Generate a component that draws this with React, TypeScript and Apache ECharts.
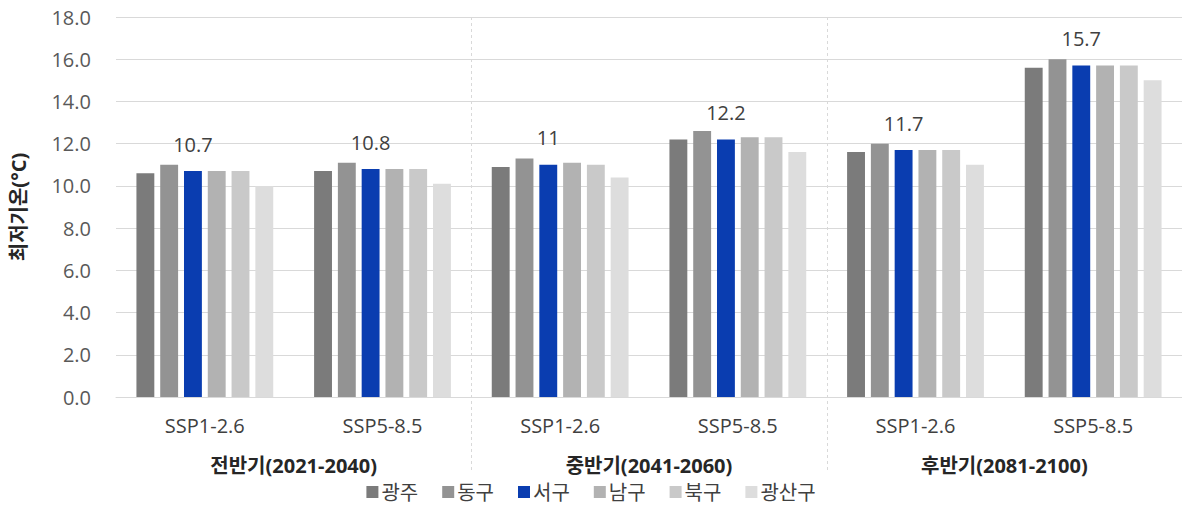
import React, { useEffect, useRef } from "react";
import * as echarts from "echarts";

const scenarios = ["SSP1-2.6", "SSP5-8.5", "SSP1-2.6", "SSP5-8.5", "SSP1-2.6", "SSP5-8.5"];
const periods = ["전반기(2021-2040)", "중반기(2041-2060)", "후반기(2081-2100)"];
const seriesNames = ["광주", "동구", "서구", "남구", "북구", "광산구"];
const gwangju = [10.6, 10.7, 10.9, 12.2, 11.6, 15.6];
const donggu = [11.0, 11.1, 11.3, 12.6, 12.0, 16.0];
const seogu = [10.7, 10.8, 11.0, 12.2, 11.7, 15.7];
const namgu = [10.7, 10.8, 11.1, 12.3, 11.7, 15.7];
const bukgu = [10.7, 10.8, 11.0, 12.3, 11.7, 15.7];
const gwangsangu = [10.0, 10.1, 10.4, 11.6, 11.0, 15.0];
const yTicks = [0, 2, 4, 6, 8, 10, 12, 14, 16, 18];

const colors = ["#7b7b7b", "#939393", "#0a3db0", "#b2b2b2", "#c9c9c9", "#dddddd"];
const FONT = "'Open Sans', 'Noto Sans CJK KR', sans-serif";

export default function App() {
  const ref = useRef<HTMLDivElement>(null);
  useEffect(() => {
    document.body.style.margin = "0";
    if (!ref.current) return;
    const chart = echarts.init(ref.current, null, { renderer: "svg" });
    const data = [gwangju, donggu, seogu, namgu, bukgu, gwangsangu];
    const option: any = {
      animation: false,
      textStyle: { fontFamily: FONT },
      color: colors,
      grid: { left: 110, right: 0, top: 17, bottom: 114 },
      legend: {
        data: seriesNames,
        bottom: 4,
        left: "center",
        itemWidth: 12,
        itemHeight: 12,
        itemGap: 24,
        icon: "rect",
        textStyle: { fontSize: 20, color: "#404040", fontFamily: FONT, padding: [0, 0, 0, -2] },
      },
      xAxis: [
        {
          type: "category",
          data: scenarios,
          axisTick: { show: false },
          axisLine: { lineStyle: { color: "#d9d9d9", width: 1 } },
          axisLabel: { margin: 18, fontSize: 20, color: "#404040", fontFamily: FONT },
        },
        {
          type: "category",
          data: periods,
          position: "bottom",
          offset: 40,
          axisTick: { show: false },
          axisLine: { show: false },
          axisLabel: { margin: 18, fontSize: 20, fontWeight: "bold", color: "#262626", fontFamily: FONT },
        },
      ],
      yAxis: {
        type: "value",
        min: yTicks[0],
        max: yTicks[yTicks.length - 1],
        interval: 2,
        name: "최저기온(°C)",
        nameLocation: "middle",
        nameGap: 88,
        nameTextStyle: { fontSize: 20, fontWeight: "bold", color: "#262626", fontFamily: FONT },
        axisLine: { show: false },
        axisTick: { show: false },
        splitLine: { lineStyle: { color: "#d9d9d9", width: 1 } },
        axisLabel: {
          margin: 25,
          fontSize: 20,
          color: "#595959",
          fontFamily: FONT,
          formatter: (v: number) => v.toFixed(1),
        },
      },
      series: seriesNames.map((name, i) => ({
        name,
        type: "bar",
        xAxisIndex: 0,
        data: data[i],
        barGap: "33%",
        barCategoryGap: "23%",
        itemStyle: { color: colors[i] },
        label:
          i === 2
            ? {
                show: true,
                position: "top",
                distance: 17,
                fontSize: 20,
                color: "#404040",
                fontFamily: FONT,
              }
            : { show: false },
      })),
    };
    chart.setOption(option);

    const x1 = chart.convertToPixel({ xAxisIndex: 0 }, 1) as number;
    const x2 = chart.convertToPixel({ xAxisIndex: 0 }, 2) as number;
    const x3 = chart.convertToPixel({ xAxisIndex: 0 }, 3) as number;
    const x4 = chart.convertToPixel({ xAxisIndex: 0 }, 4) as number;
    const yTop = chart.convertToPixel({ yAxisIndex: 0 }, yTicks[yTicks.length - 1]) as number;
    const yBottom = 470;
    const seps = [(x1 + x2) / 2, (x3 + x4) / 2];
    chart.setOption({
      graphic: seps.map((x) => ({
        type: "line",
        shape: { x1: Math.round(x) + 0.5, y1: yTop, x2: Math.round(x) + 0.5, y2: yBottom },
        style: { stroke: "#d9d9d9", lineWidth: 1, lineDash: [3, 3] },
        silent: true,
        z: 0,
      })),
    });

    return () => chart.dispose();
  }, []);
  return <div ref={ref} style={{ width: 1182, height: 511 }} />;
}
